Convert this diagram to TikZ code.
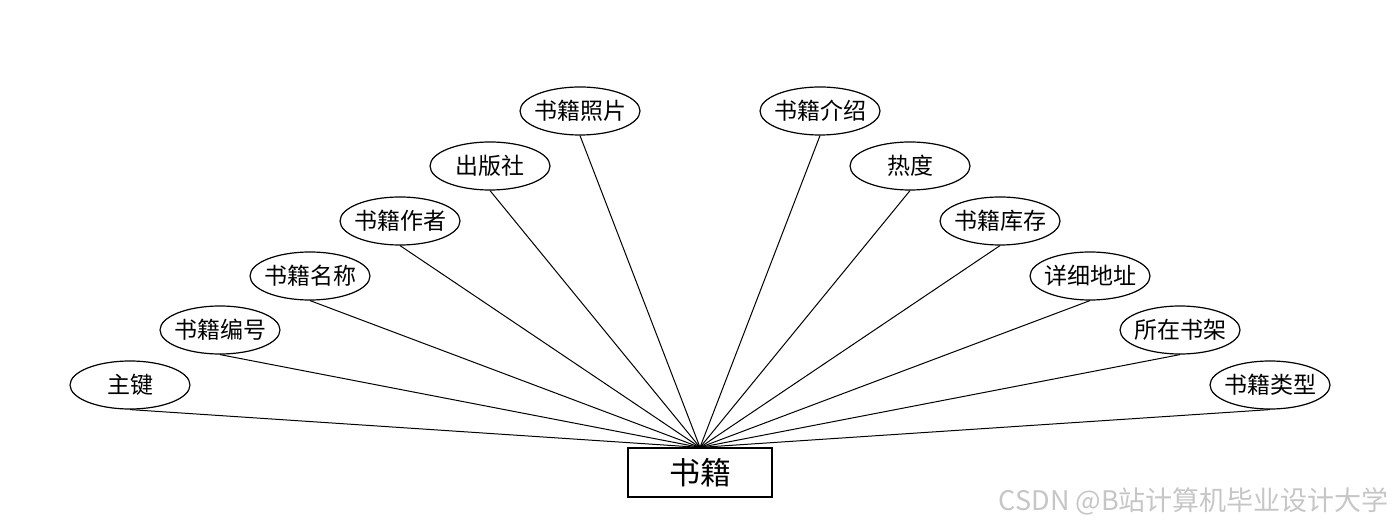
\documentclass[tikz,border=0pt]{standalone}
\usepackage{fontspec}
\setmainfont{Noto Sans CJK SC}
\usetikzlibrary{shapes.geometric}

\tikzset{
  attr/.style={ellipse,draw,line width=0.6pt,minimum width=60pt,minimum height=24pt,inner sep=0pt,font=\fontsize{11.5pt}{13pt}\selectfont},
  entity/.style={rectangle,draw,line width=0.6pt,minimum width=72pt,minimum height=24.5pt,inner sep=0pt,font=\fontsize{15.5pt}{18pt}\selectfont},
  link/.style={line width=0.5pt}
}

\begin{document}
\begin{tikzpicture}[x=0.5pt,y=-0.5pt]
\useasboundingbox (0,0) rectangle (1400,528);

% entity
\node[entity] (book) at (700,472.5) {书籍};

% attributes, left fan then right fan
\foreach \nm/\x/\y/\txt in {
  key/130/385/主键, code/220/330/书籍编号, title/310/276/书籍名称,
  author/400/221/书籍作者, press/490/166/出版社, photo/580/111/书籍照片,
  intro/820/111/书籍介绍, heat/910/166/热度, stock/1000/221/书籍库存,
  addr/1090/276/详细地址, shelf/1180/330/所在书架, kind/1270/385/书籍类型} {
  \node[attr] (\nm) at (\x,\y) {\makebox[30pt]{\txt}};
  \draw[link] (\nm.south) -- (book.north);
}

% watermark
\node[anchor=east,text=gray!45,font=\fontsize{13.5pt}{16pt}\selectfont] (mark) at (1396,501) {CSDN @B站计算机毕业设计大学};
\end{tikzpicture}
\end{document}
